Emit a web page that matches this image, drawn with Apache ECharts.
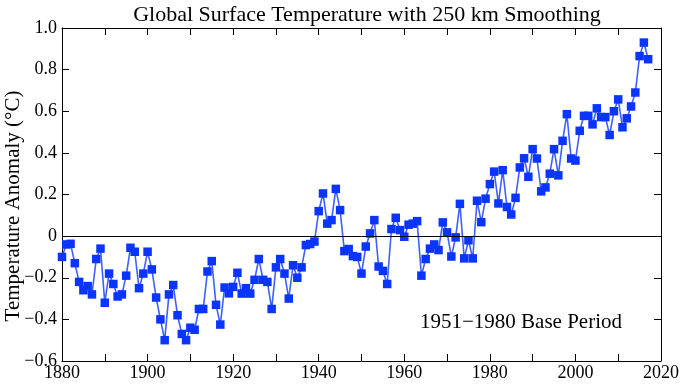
<!DOCTYPE html>
<html>
<head>
<meta charset="utf-8">
<script src="https://cdn.jsdelivr.net/npm/echarts@6/dist/echarts.min.js"></script>
<style>html,body{margin:0;padding:0;background:#fff;}#c{width:689px;height:384px;}</style>
</head>
<body>
<div id="c"></div>
<script>
var startYear = 1880;
var anomalies = [
  -0.10, -0.04, -0.037, -0.13, -0.22, -0.26, -0.24, -0.28, -0.11, -0.06,
  -0.32, -0.18, -0.23, -0.29, -0.28, -0.19, -0.056, -0.075, -0.25, -0.18,
  -0.075, -0.16, -0.295, -0.40, -0.50, -0.28, -0.235, -0.38, -0.47, -0.50,
  -0.44, -0.45, -0.35, -0.35, -0.17, -0.12, -0.33, -0.425, -0.247, -0.275,
  -0.244, -0.176, -0.276, -0.25, -0.276, -0.21, -0.11, -0.21, -0.22, -0.35,
  -0.15, -0.11, -0.18, -0.30, -0.14, -0.20, -0.15, -0.043, -0.038, -0.026,
  0.12, 0.205, 0.06, 0.077, 0.227, 0.125, -0.072, -0.062, -0.096, -0.10,
  -0.18, -0.05, 0.013, 0.077, -0.146, -0.167, -0.23, 0.034, 0.088, 0.029,
  -0.003, 0.055, 0.06, 0.072, -0.19, -0.11, -0.06, -0.04, -0.067, 0.066,
  0.018, -0.098, -0.006, 0.155, -0.107, -0.02, -0.107, 0.17, 0.067, 0.18,
  0.25, 0.31, 0.157, 0.317, 0.14, 0.104, 0.184, 0.33, 0.374, 0.285,
  0.418, 0.373, 0.215, 0.234, 0.30, 0.418, 0.292, 0.458, 0.586, 0.373,
  0.363, 0.506, 0.578, 0.578, 0.537, 0.614, 0.572, 0.572, 0.486, 0.60,
  0.657, 0.523, 0.566, 0.623, 0.69, 0.865, 0.93, 0.85
];
var xTicks = [1880, 1900, 1920, 1940, 1960, 1980, 2000, 2020];
var yTicks = [-0.6, -0.4, -0.2, 0, 0.2, 0.4, 0.6, 0.8, 1.0];
var titleText = 'Global Surface Temperature with 250 km Smoothing';
var yName = 'Temperature Anomaly (\u00B0C)';
var noteText = '1951\u22121980 Base Period';

var points = anomalies.map(function (v, i) { return [startYear + i, v]; });
var serif = '"Liberation Serif", "DejaVu Serif", serif';

function yLabel(v) {
  if (Math.abs(v) < 1e-9) return '0';
  return v.toFixed(1).replace('-', '\u2212');
}
function xLabel(v) {
  return xTicks.indexOf(Math.round(v)) >= 0 ? String(Math.round(v)) : '';
}

var chart = echarts.init(document.getElementById('c'), null, {renderer: 'canvas'});
var frameLine = {show: true, lineStyle: {color: '#000', width: 1}};
var tickIn = {show: true, inside: true, length: 7, lineStyle: {color: '#000', width: 1}};
chart.setOption({
  animation: false,
  backgroundColor: '#fff',
  title: {
    text: titleText, left: 362, top: -1, textAlign: 'center',
    textStyle: {fontFamily: serif, fontSize: 22, fontWeight: 'normal', color: '#000'}
  },
  grid: {left: 62, right: 28, top: 28, bottom: 23, containLabel: false, outerBoundsMode: 'none'},
  xAxis: [{
    type: 'value', min: 1880, max: 2020, interval: 10, position: 'bottom',
    axisLine: {show: true, onZero: false, lineStyle: {color: '#000', width: 1}},
    axisTick: tickIn,
    splitLine: {show: false},
    axisLabel: {formatter: xLabel, fontFamily: serif, fontSize: 18, color: '#000', margin: 3}
  }, {
    type: 'value', min: 1880, max: 2020, interval: 10, position: 'top',
    axisLine: {show: true, onZero: false, lineStyle: {color: '#000', width: 1}},
    axisTick: tickIn, splitLine: {show: false}, axisLabel: {show: false}
  }],
  yAxis: [{
    type: 'value', min: -0.6, max: 1.0, interval: 0.2, position: 'left',
    axisLine: frameLine, axisTick: tickIn, splitLine: {show: false},
    axisLabel: {formatter: yLabel, fontFamily: serif, fontSize: 18, color: '#000', margin: 5}
  }, {
    type: 'value', min: -0.6, max: 1.0, interval: 0.2, position: 'right',
    axisLine: frameLine, axisTick: tickIn, splitLine: {show: false}, axisLabel: {show: false}
  }],
  graphic: [{
    type: 'text', left: 420, top: 312,
    style: {text: noteText, font: '21px ' + serif, fill: '#000'}
  }, {
    type: 'text', x: 13, y: 206, rotation: Math.PI / 2,
    style: {text: yName, font: '21px ' + serif, fill: '#000', align: 'center', verticalAlign: 'middle'}
  }],
  series: [{
    type: 'line', xAxisIndex: 0, yAxisIndex: 0, data: points,
    symbol: 'rect', symbolSize: 8.5, showAllSymbol: true,
    lineStyle: {color: '#3f5fff', width: 1.6},
    itemStyle: {color: '#0a34ff'},
    markLine: {
      silent: true, symbol: 'none', label: {show: false},
      lineStyle: {color: '#000', width: 1, type: 'solid'},
      data: [{yAxis: 0}]
    },
    z: 3
  }]
});
</script>
</body>
</html>
